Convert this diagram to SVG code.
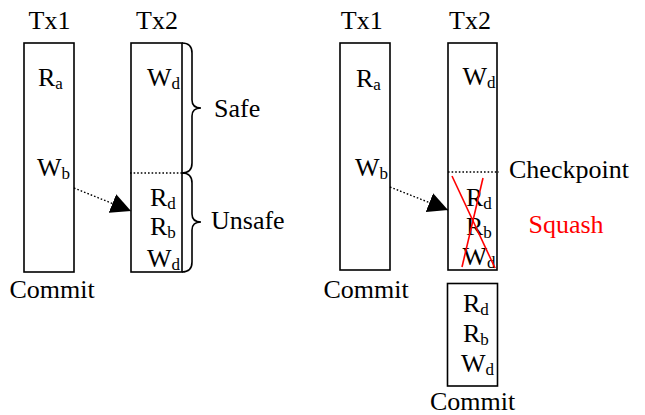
<svg xmlns="http://www.w3.org/2000/svg" width="645" height="415" viewBox="0 0 645 415" font-family="'Liberation Serif', 'DejaVu Serif', serif">
<style>
text{font-family:'Liberation Serif','DejaVu Serif',serif;font-size:26px;fill:#000}
.sub{font-size:17px}
.box{fill:#fff;stroke:#000;stroke-width:1.6}
.brace{fill:none;stroke:#000;stroke-width:1.6}
.dot{stroke:#000;stroke-width:1.4;stroke-dasharray:1.6 2;fill:none}
.x{stroke:#ff0000;stroke-width:1.6}
.red{fill:#ff0000}
</style>
<defs>
<marker id="ah" markerUnits="userSpaceOnUse" markerWidth="20" markerHeight="20" viewBox="0 0 20 20" refX="20" refY="10" orient="auto">
<path d="M0,0 L20,10 L0,20 z" fill="#000"/>
</marker>
<clipPath id="c1"><rect x="131" y="43" width="51" height="229"/></clipPath>
<clipPath id="c2"><rect x="448" y="43" width="49" height="227"/></clipPath>
</defs>

<g id="left-tx1">
<text x="49.5" y="29" text-anchor="middle">Tx1</text>
<rect class="box" x="24" y="43" width="50" height="229"/>
<text x="38" y="86">R<tspan class="sub" dy="3">a</tspan></text>
<text x="37" y="176">W<tspan class="sub" dy="3">b</tspan></text>
<text x="52" y="298" text-anchor="middle">Commit</text>
</g>

<g id="left-tx2">
<text x="157" y="29" text-anchor="middle">Tx2</text>
<rect class="box" x="131" y="43" width="51" height="229"/>
<g clip-path="url(#c1)">
<text x="147" y="86">W<tspan class="sub" dy="3">d</tspan></text>
<text x="150" y="206">R<tspan class="sub" dy="3">d</tspan></text>
<text x="150" y="235">R<tspan class="sub" dy="3">b</tspan></text>
<text x="147" y="267">W<tspan class="sub" dy="3">d</tspan></text>
</g>
<line class="dot" x1="130" y1="173" x2="182" y2="173"/>
</g>

<g id="left-braces">
<path class="brace" d="M182,43 Q192,43 192,53 L192,100 Q192,108 201,108 Q192,108 192,116 L192,163 Q192,173 182,173"/>
<path class="brace" d="M182,173 Q192,173 192,183 L192,214 Q192,222 201,222 Q192,222 192,230 L192,262 Q192,272 182,272"/>
<text x="214" y="117">Safe</text>
<text x="211" y="229">Unsafe</text>
</g>

<g id="right-tx1">
<text x="361.7" y="29" text-anchor="middle">Tx1</text>
<rect class="box" x="340" y="43" width="50" height="227"/>
<text x="356" y="87">R<tspan class="sub" dy="3">a</tspan></text>
<text x="355" y="176">W<tspan class="sub" dy="3">b</tspan></text>
<text x="366" y="298" text-anchor="middle">Commit</text>
</g>

<g id="right-tx2">
<text x="470" y="29" text-anchor="middle">Tx2</text>
<rect class="box" x="448" y="43" width="49" height="227"/>
<g clip-path="url(#c2)">
<text x="462.5" y="85">W<tspan class="sub" dy="3">d</tspan></text>
<text x="466" y="206">R<tspan class="sub" dy="3">d</tspan></text>
<text x="466" y="235">R<tspan class="sub" dy="3">b</tspan></text>
<text x="462.5" y="265">W<tspan class="sub" dy="3">d</tspan></text>
</g>
<line class="dot" x1="448" y1="172" x2="499" y2="172"/>
<line class="x" x1="452" y1="176" x2="495" y2="268"/>
<line class="x" x1="483" y1="178" x2="462" y2="267"/>
<text x="509" y="178">Checkpoint</text>
<text class="red" x="528.5" y="233">Squash</text>
</g>

<g id="retry-tx2">
<rect class="box" x="447.5" y="283.5" width="50" height="102.5"/>
<text x="463" y="312">R<tspan class="sub" dy="3">d</tspan></text>
<text x="463" y="342">R<tspan class="sub" dy="3">b</tspan></text>
<text x="461" y="372">W<tspan class="sub" dy="3">d</tspan></text>
<text x="472.5" y="410" text-anchor="middle">Commit</text>
</g>

<g id="connectors">
<line class="dot" x1="74" y1="188" x2="131" y2="211" marker-end="url(#ah)"/>
<line class="dot" x1="390" y1="187" x2="448" y2="210" marker-end="url(#ah)"/>
</g>
</svg>
